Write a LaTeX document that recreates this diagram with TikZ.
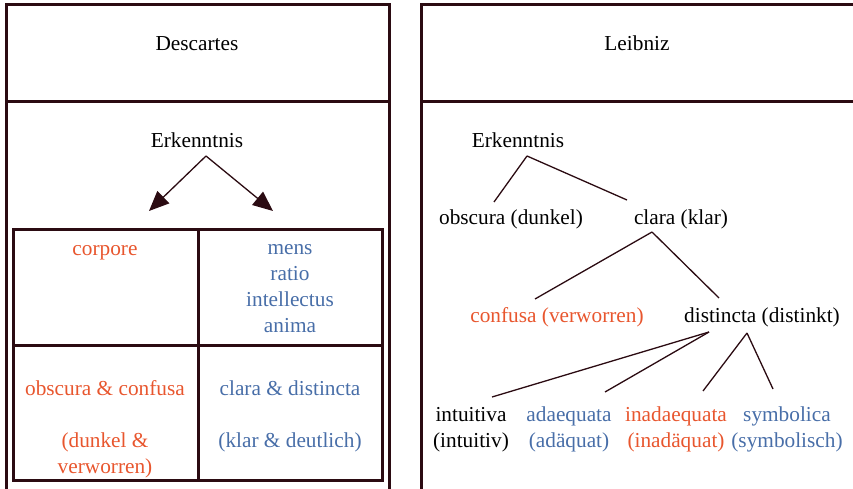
\documentclass[tikz,border=0pt]{standalone}
\usepackage{fontspec}
\setmainfont{Liberation Serif}
\usetikzlibrary{arrows.meta}
\definecolor{rahmenfarbe}{RGB}{43,11,18}
\definecolor{rot}{RGB}{232,86,46}
\definecolor{blau}{RGB}{72,110,168}

\begin{document}
\begin{tikzpicture}[x=1pt,y=-1pt,font=\fontsize{21.3}{26}\selectfont,
  wort/.style={inner sep=0pt,anchor=base,align=center},
  rahmen/.style={line width=3pt,draw=rahmenfarbe},
  ast/.style={line width=1.3pt,draw=rahmenfarbe}]
\useasboundingbox (0,0) rectangle (853,489);
\draw[rahmen] (6,489) -- (6,5) -- (389,5) -- (389,489);
\draw[rahmen] (6,102) -- (389,102);
\draw[rahmen] (13,229) rectangle (382,480);
\draw[rahmen] (198,229) -- (198,480);
\draw[rahmen] (13,345) -- (382,345);
\draw[rahmen] (853,5) -- (421,5) -- (421,489);
\draw[rahmen] (421,102) -- (853,102);
\node[wort] (desc) at(197,51) {Descartes};
\node[wort] (leib) at(637,51) {Leibniz};
\node[wort] (erkL) at(197,148) {Erkenntnis};
\coordinate (pfeilL) at(149,211);
\coordinate (pfeilR) at(273,211);
\draw[ast,-{Triangle[length=20pt,width=17pt]}] ([shift={(9,8)}]erkL.base) -- (pfeilL);
\draw[ast,-{Triangle[length=20pt,width=17pt]}] ([shift={(9,8)}]erkL.base) -- (pfeilR);
\node[wort,text=rot] (corp) at(105,255) {corpore};
\node[wort,text=blau] (mens) at(290,332) {mens\\ratio\\intellectus\\anima};
\node[wort,text=rot] (obcf) at(105,473) {obscura \& confusa\\[26pt](dunkel \&\\verworren)};
\node[wort,text=blau] (clds) at(290,447) {clara \& distincta\\[26pt](klar \& deutlich)};
\node[wort] (erkR) at(518,148) {Erkenntnis};
\node[wort] (obsc) at(511,224) {obscura (dunkel)};
\node[wort] (clar) at(681,224) {clara (klar)};
\node[wort,text=rot] (conf) at(557,322) {confusa (verworren)};
\node[wort] (dist) at(762,322) {distincta (distinkt)};
\node[wort] (intu) at(471,447) {intuitiva\\(intuitiv)};
\node[wort,text=blau] (adae) at(569,447) {adaequata\\(adäquat)};
\node[wort,text=rot] (inad) at(676,447) {inadaequata\\(inadäquat)};
\node[wort,text=blau] (symb) at(787,447) {symbolica\\(symbolisch)};
\draw[ast] ([shift={(9,8)}]erkR.base) -- ([shift={(-17,-22)}]obsc.base);
\draw[ast] ([shift={(9,8)}]erkR.base) -- ([shift={(-54,-24)}]clar.base);
\draw[ast] ([shift={(-29,8)}]clar.base) -- ([shift={(-22,-23)}]conf.base);
\draw[ast] ([shift={(-29,8)}]clar.base) -- ([shift={(-43,-24)}]dist.base);
\draw[ast] ([shift={(-53,10)}]dist.base) -- ([shift={(21,-50)}]intu.base);
\draw[ast] ([shift={(-53,10)}]dist.base) -- ([shift={(36,-55)}]adae.base);
\draw[ast] ([shift={(-15,11)}]dist.base) -- ([shift={(27,-56)}]inad.base);
\draw[ast] ([shift={(-15,11)}]dist.base) -- ([shift={(-14,-58)}]symb.base);
\end{tikzpicture}
\end{document}
